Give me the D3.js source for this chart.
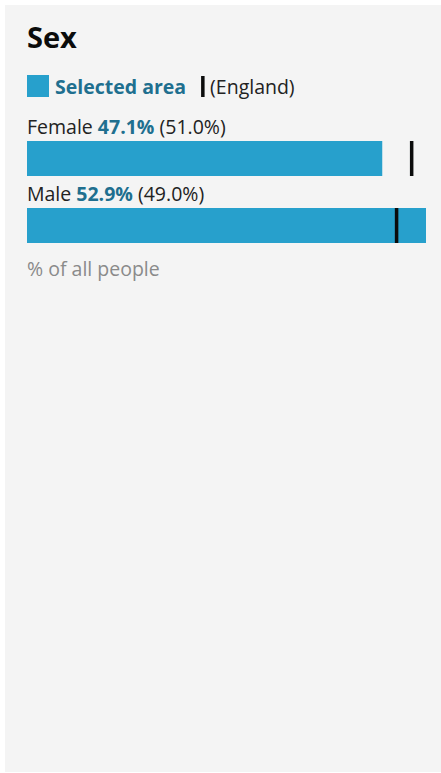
<!DOCTYPE html>
<html>
<head>
<meta charset="utf-8">
<script src="https://cdn.jsdelivr.net/npm/d3@7"></script>
<style>
  html, body { margin: 0; padding: 0; background: #ffffff; }
  svg { display: block; font-family: "Open Sans", "Noto Sans", sans-serif; }
</style>
</head>
<body>
<script>
// Sex breakdown: selected area vs England comparison
const categories = ["Female", "Male"];
const areaValues = [47.1, 52.9];
const englandValues = [51.0, 49.0];
const title = "Sex";
const legendLabels = ["Selected area", "(England)"];
const footnote = "% of all people";

const W = 441, H = 773;
const barColor = "#27a0cc";
const valueColor = "#206f8f";
const fs = 19.5;

const svg = d3.select("body").append("svg")
  .attr("width", W).attr("height", H);

// card background
svg.append("rect")
  .attr("x", 5).attr("y", 5)
  .attr("width", W - 5).attr("height", H - 6)
  .attr("fill", "#f4f4f4");

svg.append("text")
  .attr("x", 27).attr("y", 48)
  .attr("font-size", 29).attr("font-weight", 700)
  .attr("fill", "#0b0c0c")
  .text(title);

// legend
svg.append("rect")
  .attr("x", 27).attr("y", 75).attr("width", 22).attr("height", 22)
  .attr("fill", barColor);
const legText = svg.append("text")
  .attr("x", 55).attr("y", 94)
  .attr("font-size", fs).attr("font-weight", 700)
  .attr("fill", valueColor)
  .text(legendLabels[0]);
const legEnd = 55 + legText.node().getComputedTextLength();
svg.append("rect")
  .attr("x", legEnd + 15).attr("y", 76).attr("width", 3.5).attr("height", 21)
  .attr("fill", "#0b0c0c");
svg.append("text")
  .attr("x", legEnd + 24).attr("y", 94)
  .attr("font-size", fs)
  .attr("fill", "#222")
  .text(legendLabels[1]);

const x = d3.scaleLinear()
  .domain([0, d3.max(areaValues)])
  .range([27, 426]);

const rowTop = 141, rowStep = 67, barH = 35;
const y = i => rowTop + i * rowStep;

const rows = svg.selectAll("g.row")
  .data(categories.map((c, i) => ({ c, v: areaValues[i], e: englandValues[i], i })))
  .join("g").attr("class", "row");

const lbl = rows.append("text")
  .attr("x", 27).attr("y", d => y(d.i) - 7)
  .attr("font-size", fs).attr("fill", "#222");
lbl.append("tspan").text(d => d.c + " ");
lbl.append("tspan").attr("font-weight", 700).attr("fill", valueColor)
  .text(d => d.v.toFixed(1) + "%");
lbl.append("tspan").text(d => " (" + d.e.toFixed(1) + "%)");

rows.append("rect")
  .attr("x", x(0)).attr("y", d => y(d.i))
  .attr("width", d => x(d.v) - x(0)).attr("height", barH)
  .attr("fill", barColor);

rows.append("rect")
  .attr("x", d => x(d.e) - 1.75).attr("y", d => y(d.i))
  .attr("width", 3.5).attr("height", barH)
  .attr("fill", "#0b0c0c");

svg.append("text")
  .attr("x", 27).attr("y", 276)
  .attr("font-size", fs).attr("fill", "#8a8a8a")
  .text(footnote);
</script>
</body>
</html>
